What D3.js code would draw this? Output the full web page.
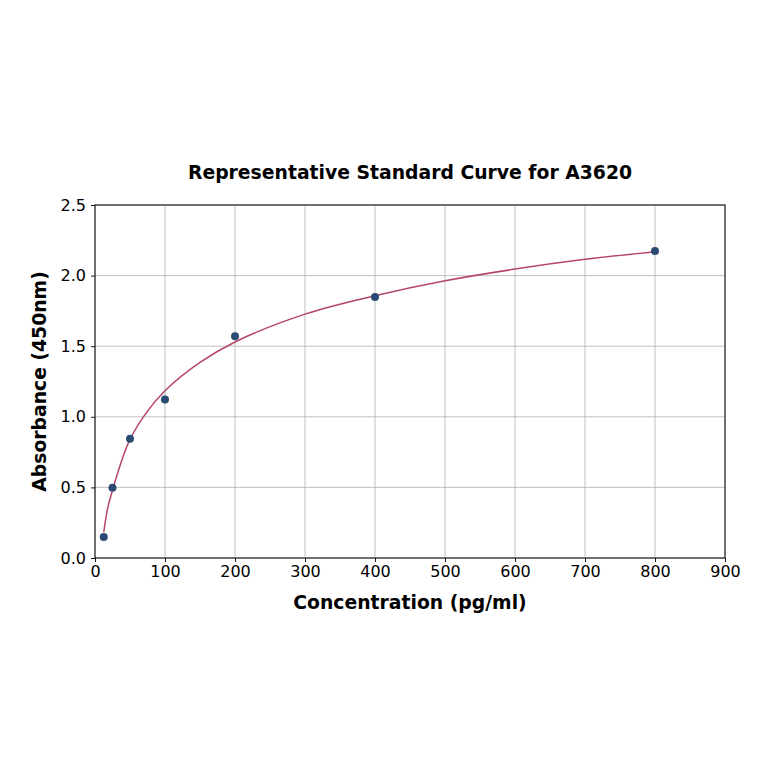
<!DOCTYPE html>
<html>
<head>
<meta charset="utf-8">
<script src="https://d3js.org/d3.v7.min.js"></script>
<style>
  body { margin: 0; background: #fff; }
  text { font-family: "DejaVu Sans", sans-serif; }
</style>
</head>
<body>
<script>
// standards (pg/ml) and measured absorbance
const conc = [12.5, 25, 50, 100, 200, 400, 800];
const absorb = [0.149, 0.497, 0.845, 1.122, 1.57, 1.848, 2.174];

// fitted curve
const fitX = [12.5, 18, 25, 37.5, 50, 75, 100, 150, 200, 300, 400, 500, 600, 700, 800];
const fitY = [0.183, 0.35, 0.48, 0.68, 0.84, 1.04, 1.185, 1.385, 1.53, 1.727, 1.857, 1.963, 2.046, 2.115, 2.169];

const xTicks = [0, 100, 200, 300, 400, 500, 600, 700, 800, 900];
const yTicks = [0.0, 0.5, 1.0, 1.5, 2.0, 2.5];

const width = 764, height = 764;
const margin = {left: 95, right: 39, top: 205, bottom: 206};

const svg = d3.select("body").append("svg")
    .attr("width", width)
    .attr("height", height);

const x = d3.scaleLinear().domain([0, 900]).range([margin.left, width - margin.right]);
const y = d3.scaleLinear().domain([0, 2.5]).range([height - margin.bottom, margin.top]);

// grid
svg.append("g")
    .selectAll("line")
    .data(xTicks)
    .join("line")
        .attr("x1", d => x(d)).attr("x2", d => x(d))
        .attr("y1", y(0)).attr("y2", y(2.5))
        .style("stroke", "#b0b0b0").style("stroke-width", 0.8);
svg.append("g")
    .selectAll("line")
    .data(yTicks)
    .join("line")
        .attr("x1", x(0)).attr("x2", x(900))
        .attr("y1", d => y(d)).attr("y2", d => y(d))
        .style("stroke", "#b0b0b0").style("stroke-width", 0.8);

// axes
const xAxis = svg.append("g")
    .attr("transform", `translate(0,${y(0)})`)
    .call(d3.axisBottom(x).tickValues(xTicks).tickFormat(d3.format("d")).tickSize(4).tickPadding(4));
const yAxis = svg.append("g")
    .attr("transform", `translate(${x(0)},0)`)
    .call(d3.axisLeft(y).tickValues(yTicks).tickFormat(d3.format(".1f")).tickSize(4).tickPadding(5));
[xAxis, yAxis].forEach(a => {
    a.selectAll("text").style("font-size", "16px").style("fill", "#000")
        .style("font-family", "'DejaVu Sans', sans-serif");
    a.select(".domain").remove();
    a.selectAll("line").style("stroke", "#000").style("stroke-width", 0.9);
});

// frame
svg.append("rect")
    .attr("x", x(0)).attr("y", y(2.5))
    .attr("width", x(900) - x(0)).attr("height", y(0) - y(2.5))
    .style("fill", "none").style("stroke", "#000").style("stroke-width", 1);

// curve
const line = d3.line()
    .x(d => x(d[0]))
    .y(d => y(d[1]))
    .curve(d3.curveCatmullRom.alpha(0.5));
svg.append("path")
    .datum(d3.zip(fitX, fitY))
    .attr("d", line)
    .style("fill", "none")
    .style("stroke", "#b5456a")
    .style("stroke-width", 1.5);

// points
svg.selectAll("circle")
    .data(d3.zip(conc, absorb))
    .join("circle")
        .attr("cx", d => x(d[0]))
        .attr("cy", d => y(d[1]))
        .attr("r", 4)
        .style("fill", "#2b4a72");

// labels
svg.append("text")
    .attr("x", (x(0) + x(900)) / 2).attr("y", 179)
    .attr("text-anchor", "middle")
    .style("font-size", "18.8px").style("font-weight", "bold")
    .text("Representative Standard Curve for A3620");
svg.append("text")
    .attr("x", (x(0) + x(900)) / 2).attr("y", 609)
    .attr("text-anchor", "middle")
    .style("font-size", "18.8px").style("font-weight", "bold")
    .text("Concentration (pg/ml)");
svg.append("text")
    .attr("transform", `translate(46,${(y(0) + y(2.5)) / 2}) rotate(-90)`)
    .attr("text-anchor", "middle")
    .style("font-size", "18.8px").style("font-weight", "bold")
    .text("Absorbance (450nm)");
</script>
</body>
</html>
